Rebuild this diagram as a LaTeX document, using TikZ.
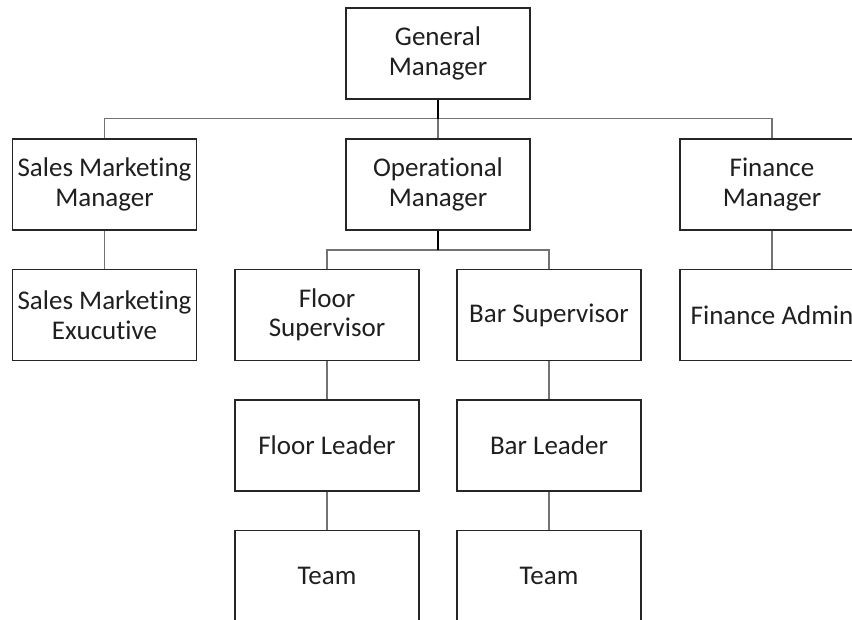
\documentclass[tikz,border=0pt]{standalone}
\usepackage{fontspec}
\setmainfont{Carlito}[Ligatures=NoCommon]
\usetikzlibrary{arrows,positioning}
\tikzset{every picture/.style={line width=0.5pt}}
\tikzstyle{post}=[draw=black!85,line width=1.2pt,minimum width=184pt,minimum height=91pt,inner sep=0pt,align=center,text=black!88,font=\fontsize{27}{29.5}\selectfont]
\tikzstyle{wire}=[draw=black!55,line width=1.2pt]
\tikzstyle{stem}=[draw=black,line width=2.2pt]

\begin{document}
\begin{tikzpicture}[x=1pt,y=-1pt]
\useasboundingbox (0,0) rectangle (852,619);
\node[post] (GM) at (438,53.5) {General\\Manager};
\node[post] (SMM) at (104.5,184.5) {Sales Marketing\\Manager};
\node[post] (OM) at (438,184.5) {Operational\\Manager};
\node[post] (FM) at (772,184.5) {Finance\\Manager};
\node[post] (SME) at (104.5,315) {Sales Marketing\\Exucutive};
\node[post] (FS) at (327,315) {Floor\\Supervisor};
\node[post] (BS) at (549,315) {Bar Supervisor};
\node[post] (FA) at (772,315) {Finance Admin};
\node[post] (FL) at (327,445.5) {Floor Leader};
\node[post] (BL) at (549,445.5) {Bar Leader};
\node[post] (FT) at (327,576) {Team};
\node[post] (BT) at (549,576) {Team};
\coordinate (bus) at (438,118.5);
\coordinate (bus') at (438,250);
% top level
\draw[wire] (SMM.north) |- (bus) -| (FM.north);
\draw[wire] (bus) -- (OM.north);
\draw[stem] (GM.south) -- (bus);
% operations
\draw[wire] (FS.north) |- (bus') -| (BS.north);
\draw[stem] (OM.south) -- (bus');
% single lines
\path[wire]
(SMM) edge (SME)
(FM) edge (FA)
(FS) edge (FL)
(FL) edge (FT)
(BS) edge (BL)
(BL) edge (BT);
\end{tikzpicture}
\end{document}
